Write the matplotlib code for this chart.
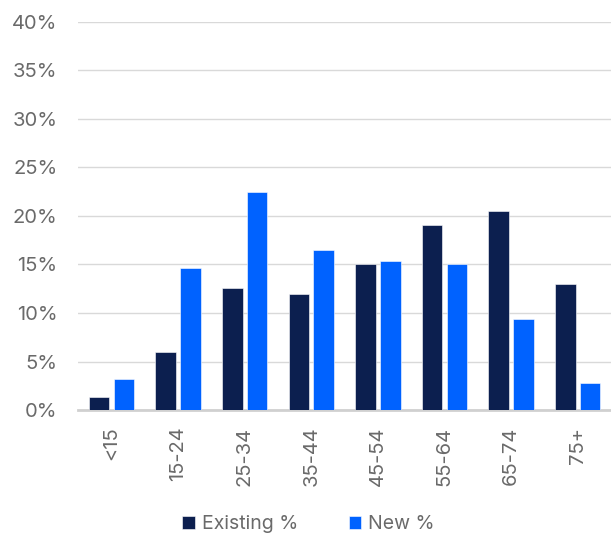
import matplotlib
matplotlib.use("Agg")
import matplotlib.pyplot as plt
import numpy as np

categories = ["<15", "15-24", "25-34", "35-44", "45-54", "55-64", "65-74", "75+"]
existing = [1.3, 6.0, 12.6, 12.0, 15.0, 19.1, 20.5, 13.0]
new = [3.2, 14.6, 22.5, 16.5, 15.4, 15.1, 9.4, 2.8]
yticks = [0, 5, 10, 15, 20, 25, 30, 35, 40]

plt.rcParams['font.family'] = ['Inter', 'DejaVu Sans']

fig = plt.figure(figsize=(6.11, 5.35), dpi=100)
ax = fig.add_axes([0.128, 0.2336, 0.872, 0.7254])

x = np.arange(len(categories))
w = 0.31
c_ex = "#0C1F4F"
c_new = "#0062FF"
ax.bar(x - 0.187, existing, w, color=c_ex, edgecolor="white", linewidth=0.4, zorder=3, label="Existing %")
ax.bar(x + 0.187, new, w, color=c_new, edgecolor="white", linewidth=0.4, zorder=3, label="New %")

ax.set_xlim(-0.5, 7.5)
ax.set_ylim(0, 40)
ax.set_yticks(yticks)
ax.set_yticklabels([f"{t}%" for t in yticks])
ax.yaxis.grid(True, color="#D9D9D9", linewidth=1, zorder=0)
ax.set_axisbelow(True)
for s in ["top", "right", "left"]:
    ax.spines[s].set_visible(False)
ax.spines["bottom"].set_color("#D0D0D0")
ax.spines["bottom"].set_linewidth(2)
ax.set_xticks(x)
ax.set_xticklabels(categories, rotation=90)
ax.tick_params(axis="both", length=0, labelsize=14.5, colors="#6A6A6A")
ax.tick_params(axis="y", pad=15)
ax.tick_params(axis="x", pad=12)

leg = fig.legend(loc="center", bbox_to_anchor=(0.505, 0.02), ncol=2, frameon=False,
                 fontsize=14, handlelength=0.65, handleheight=0.65, handletextpad=0.35,
                 columnspacing=2.6)
for t in leg.get_texts():
    t.set_color("#6A6A6A")

fig.savefig("out.png", dpi=100)
